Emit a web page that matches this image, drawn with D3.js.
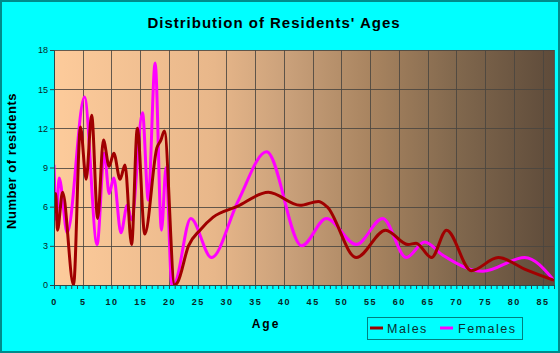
<!DOCTYPE html>
<html>
<head>
<meta charset="utf-8">
<script src="https://cdn.jsdelivr.net/npm/d3@7"></script>
<style>
  body { margin: 0; background: #00ffff; }
  text { font-family: "Liberation Sans", Arial, sans-serif; }
</style>
</head>
<body>
<div id="chart-area"></div>
<script>
// DATA
// ****

let maleAges   = [0, 0.3, 0.6, 1.5, 3.4, 4.6, 5.6, 6.55, 7.6, 8.6, 9.6, 10.4, 11.5, 12.35, 13.5, 14.5, 15.8, 17.9, 18.6, 19.2, 21, 21.5, 23.4, 25.4, 27.7, 31.8, 37.3, 42.8, 46, 47.5, 52.6, 57.7, 61.6, 63, 65.7, 68.3, 72.6, 77.3, 82.2, 87]
let maleValues = [5.5, 7.0, 4.2, 7.1, 0, 12.1, 8.1, 13.0, 5.1, 11.1, 9.1, 10.1, 8.1, 9.2, 3.1, 12.0, 3.9, 10.5, 11.1, 11.8, 0, 0.2, 3.0, 4.2, 5.2, 6.0, 7.1, 6.1, 6.4, 6.0, 2.1, 4.2, 3.1, 3.2, 2.1, 4.2, 1.1, 2.1, 1.15, 0.35]

let femaleAges   = [0, 0.4, 0.9, 2.3, 5.3, 7.5, 8.75, 9.6, 10.4, 11.65, 12.75, 13.5, 15.4, 16.4, 17.6, 18.7, 19.5, 20.5, 21, 23.8, 27.4, 32, 37.0, 43.1, 47.4, 52.6, 57.2, 61.3, 64.5, 67.6, 74.6, 81.9, 87]
let femaleValues = [9.2, 5.0, 8.2, 4.0, 14.4, 3.1, 10.1, 7.0, 8.2, 4.0, 6.1, 5.0, 13.2, 6.5, 17.0, 4.2, 9.0, 0, 0.1, 5.1, 2.1, 6.4, 10.2, 3.0, 5.1, 3.1, 5.1, 2.1, 3.3, 2.3, 1.05, 2.1, 0.35]

let yTicks = [0, 3, 6, 9, 12, 15, 18]
let xTicks = d3.range(0, 86, 5)

let males = maleAges.map((a, i) => ({age: a, value: maleValues[i]}))
let females = femaleAges.map((a, i) => ({age: a, value: femaleValues[i]}))

// SVG & SCALES
// ************

let W = 560, H = 353
let plot = {left: 54, right: 554, top: 50, bottom: 285}

let svg = d3.select("#chart-area")
  .append("svg")
    .attr("width", W)
    .attr("height", H)

svg.append("rect")
  .attr("x", 1).attr("y", 1)
  .attr("width", W - 2).attr("height", H - 2)
  .attr("fill", "#00ffff")
  .attr("stroke", "#008b8b")
  .attr("stroke-width", 2)

let x = d3.scaleLinear().domain([0, 87]).range([plot.left, plot.right])
let y = d3.scaleLinear().domain([0, 18]).range([plot.bottom, plot.top])

// BACKGROUND
// **********

let grad = svg.append("defs").append("linearGradient")
  .attr("id", "bg").attr("x1", "0%").attr("x2", "100%").attr("y1", "0%").attr("y2", "0%")
let stops = [[0, "#fdcb9b"], [0.32, "#e8b78a"], [0.47, "#c9a07a"], [0.64, "#a7835f"], [0.81, "#80674d"], [1, "#5e4b3a"]]
stops.forEach(s => grad.append("stop").attr("offset", s[0]).attr("stop-color", s[1]))

svg.select("defs").append("clipPath").attr("id", "clip")
  .append("rect")
    .attr("x", plot.left).attr("y", plot.top)
    .attr("width", plot.right - plot.left).attr("height", plot.bottom - plot.top)

svg.append("rect")
  .attr("x", plot.left).attr("y", plot.top)
  .attr("width", plot.right - plot.left).attr("height", plot.bottom - plot.top)
  .attr("fill", "url(#bg)")

// GRID
// ****

let grid = svg.append("g").attr("stroke", "#4a4540").attr("stroke-opacity", 0.85).attr("stroke-width", 1)
grid.selectAll(".vg").data(xTicks.filter(d => d > 0)).enter()
  .append("line")
    .attr("x1", d => Math.round(x(d)) + 0.5).attr("x2", d => Math.round(x(d)) + 0.5)
    .attr("y1", plot.top).attr("y2", plot.bottom)
grid.selectAll(".hg").data(yTicks.filter(d => d > 0)).enter()
  .append("line")
    .attr("x1", plot.left).attr("x2", plot.right)
    .attr("y1", d => Math.round(y(d)) + 0.5).attr("y2", d => Math.round(y(d)) + 0.5)
grid.append("line")
  .attr("x1", plot.right + 0.5).attr("x2", plot.right + 0.5)
  .attr("y1", plot.top).attr("y2", plot.bottom)

// LINES
// *****

let line = d3.line()
  .x(d => x(d.age))
  .y(d => y(d.value))
  .curve(d3.curveMonotoneX)

let lines = svg.append("g").attr("clip-path", "url(#clip)")
lines.append("path")
  .datum(females)
  .attr("d", line)
  .attr("fill", "none")
  .attr("stroke", "#ff00ff")
  .attr("stroke-width", 3)
lines.append("path")
  .datum(males)
  .attr("d", line)
  .attr("fill", "none")
  .attr("stroke", "#a00000")
  .attr("stroke-width", 3)

// AXES
// ****

let bottomAxis = d3.axisBottom(x)
  .tickValues(d3.range(0, 88))
  .tickFormat(d => d % 5 === 0 ? d : "")
  .tickSize(4)
  .tickPadding(10)
let bx = svg.append("g")
  .attr("class", "bottom axis")
  .attr("transform", "translate(0, " + plot.bottom + ")")
  .call(bottomAxis)
bx.select(".domain").attr("stroke", "#2a4a4a")
bx.selectAll("line").attr("stroke", "#2a4a4a")
bx.selectAll("text")
  .attr("font-size", "9px")
  .attr("font-weight", "bold")
  .attr("letter-spacing", "1.5px")
  .attr("fill", "#0a2626")

let leftAxis = d3.axisLeft(y).tickValues(yTicks).tickSize(4).tickPadding(2)
let ly = svg.append("g")
  .attr("class", "left axis")
  .attr("transform", "translate(" + plot.left + ", 0)")
  .call(leftAxis)
ly.select(".domain").attr("stroke", "#2a4a4a")
ly.selectAll("line").attr("stroke", "#2a4a4a")
ly.selectAll("text")
  .attr("font-size", "9px")
  .attr("fill", "#0a2626")

// LABELS
// ******

svg.append("text")
  .attr("x", 274)
  .attr("y", 28)
  .attr("text-anchor", "middle")
  .attr("font-size", "15px")
  .attr("font-weight", "bold")
  .attr("letter-spacing", "1px")
  .style("fill", "black")
  .text("Distribution of Residents' Ages")

svg.append("text")
  .attr("x", 266)
  .attr("y", 328)
  .attr("text-anchor", "middle")
  .attr("font-size", "12px")
  .attr("font-weight", "bold")
  .attr("letter-spacing", "2px")
  .style("fill", "black")
  .text("Age")

svg.append("text")
  .attr("transform", "translate(16, 161) rotate(-90)")
  .attr("text-anchor", "middle")
  .attr("font-size", "13px")
  .attr("font-weight", "bold")
  .attr("letter-spacing", "0.5px")
  .style("fill", "black")
  .text("Number of residents")

// LEGEND
// ******

let legend = svg.append("g")
legend.append("rect")
  .attr("x", 367.5).attr("y", 317.5)
  .attr("width", 155).attr("height", 22)
  .attr("fill", "none")
  .attr("stroke", "#008080")

let legendItems = [["Males", "#a00000", 370, 387], ["Females", "#ff00ff", 440, 458]]
legendItems.forEach(it => {
  legend.append("line")
    .attr("x1", it[2]).attr("x2", it[2] + 13)
    .attr("y1", 328).attr("y2", 328)
    .attr("stroke", it[1]).attr("stroke-width", 3)
  legend.append("text")
    .attr("x", it[3]).attr("y", 332.5)
    .attr("font-size", "12.5px")
    .attr("letter-spacing", "1.5px")
    .style("fill", "#0a3030")
    .text(it[0])
})
</script>
</body>
</html>
